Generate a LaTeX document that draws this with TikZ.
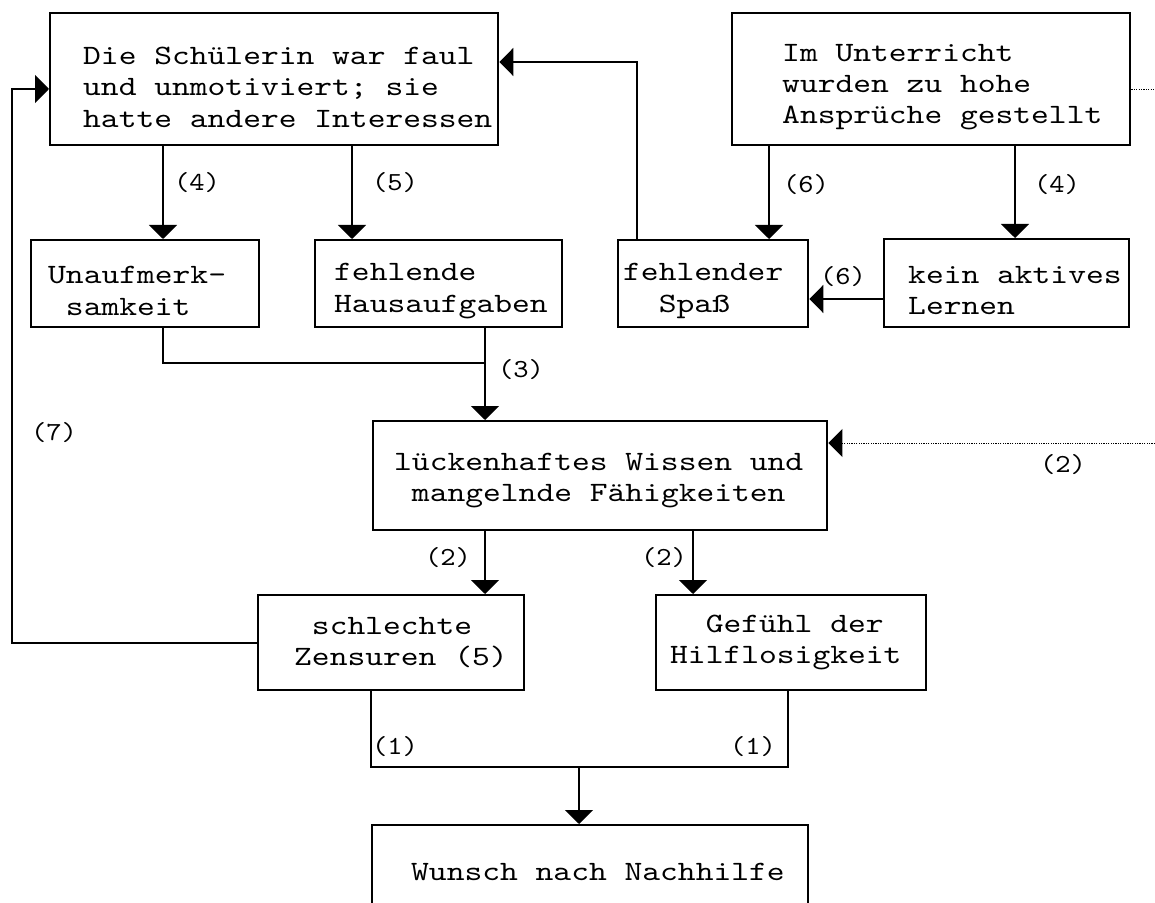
\documentclass[tikz,border=0pt]{standalone}
\usepackage{fontspec}
\usetikzlibrary{arrows.meta}
\newfontfamily\monofont[FakeStretch=1.21]{lmmono10-regular.otf}
\newfontfamily\numfont[FakeStretch=1.12]{lmmono10-regular.otf}
\newcommand\boxtext{\monofont\fontsize{14pt}{15.7pt}\selectfont}
\newcommand\numtext{\numfont\fontsize{13pt}{14pt}\selectfont}

\begin{document}
\begin{tikzpicture}[
    x=0.5pt, y=-0.5pt,
    box/.style={draw, line width=1.2pt, anchor=north west, align=left,
                font=\boxtext, inner xsep=0pt, inner ysep=0pt},
    indent/.style={execute at begin node={\leftskip=#1\relax
                   \spaceskip=\fontdimen2\font\relax \xspaceskip=\spaceskip}},
    link/.style={line width=0.9pt},
    arr/.style={link, -{Triangle[width=14pt, length=7pt]}},
    dots/.style={line width=0.5pt, dash pattern=on 0.6pt off 0.6pt},
    num/.style={font=\numtext, inner sep=0pt}
]

% Page: 1155 x 903 px, 1 px = 0.5 pt, y grows downwards
\useasboundingbox (0,0) rectangle (1155,903);
\fill[white] (0,0) rectangle (1155,903);
\clip (0,0) rectangle (1155,903);

% Boxes, placed by their upper left corner
\node[box, text width=224pt, minimum height=66pt, text height=16.5pt, indent=16.5pt] (faul) at (49,12)
    {Die Schülerin war faul\\und unmotiviert; sie\\hatte andere Interessen};
\node[box, text width=199pt, minimum height=66pt, text height=16.5pt, indent=25pt] (hoch) at (731,12)
    {Im Unterricht\\wurden zu hohe\\Ansprüche gestellt};
\node[box, text width=114pt, minimum height=43.5pt, text height=16pt, indent=8.5pt] (unauf) at (30,239)
    {Unaufmerk-\\~samkeit};
\node[box, text width=123.5pt, minimum height=43.5pt, text height=16pt, indent=9.5pt] (haus) at (314,239)
    {fehlende\\Hausaufgaben};
\node[box, text width=95pt, minimum height=43.5pt, text height=16pt, indent=2.5pt] (spass) at (617,239)
    {fehlender\\~~Spaß};
\node[box, text width=122.5pt, minimum height=44pt, text height=16pt, indent=12pt] (aktiv) at (883,238)
    {kein aktives\\Lernen};
\node[box, text width=227pt, minimum height=54.5pt, text height=13.5pt, indent=10.5pt] (wissen) at (372,420)
    {lückenhaftes Wissen und\\~mangelnde Fähigkeiten};
\node[box, text width=133pt, minimum height=47.5pt, indent=18pt] (noten) at (257,594)
    {~schlechte\\Zensuren (5)};
\node[box, text width=135pt, minimum height=47.5pt, indent=7pt] (hilf) at (655,594)
    {~~Gefühl der\\Hilflosigkeit};
\node[box, text width=218pt, minimum height=46.5pt, indent=19.5pt] (wunsch) at (371,824)
    {Wunsch nach Nachhilfe};

% Helper coordinates for the connector lines
\coordinate (xac) at (163,0);
\coordinate (xad) at (352,0);
\coordinate (xbe) at (769,0);
\coordinate (xbf) at (1015,0);
\coordinate (xdg) at (485,0);
\coordinate (xgi) at (693,0);
\coordinate (ea)  at (637,62);
\coordinate (loop) at (12,89);
\coordinate (yfe) at (0,299);
\coordinate (cd)  at (485,363);
\coordinate (hj)  at (371,767);
\coordinate (ij)  at (788,767);
\coordinate (jn)  at (579,767);
\coordinate (bd)  at (1155,90);
\coordinate (gd)  at (1155,443);

% Connectors
\draw[arr] (faul.south -| xac) -- (unauf.north -| xac);
\draw[arr] (faul.south -| xad) -- (haus.north -| xad);
\draw[arr] (hoch.south -| xbe) -- (spass.north -| xbe);
\draw[arr] (hoch.south -| xbf) -- (aktiv.north -| xbf);
\draw[arr] (aktiv.west |- yfe) -- (spass.east |- yfe);
\draw[arr] (spass.north -| ea) -- (ea) -- (faul.east |- ea);
\draw[link] (unauf.south -| xac) |- (cd);
\draw[arr] (haus.south -| xdg) -- (wissen.north -| xdg);
\draw[arr] (wissen.south -| xdg) -- (noten.north -| xdg);
\draw[arr] (wissen.south -| xgi) -- (hilf.north -| xgi);
\draw[arr] (noten.west) -| (loop) -- (faul.west |- loop);
\draw[link] (noten.south -| hj) -- (hj) -- (ij) -- (hilf.south -| ij);
\draw[arr] (jn) -- (wunsch.north -| jn);

% Dotted links leaving the picture
\draw[dots] (hoch.east |- bd) -- (bd);
\draw[dots, -{Triangle[width=14pt, length=7pt]}] (gd) -- (wissen.east |- gd);

% Numbers at the connectors
\node[num] (n4a) at (197,183) {(4)};
\node[num] (n5)  at (395,183) {(5)};
\node[num] (n6a) at (806,185) {(6)};
\node[num] (n4b) at (1057,185) {(4)};
\node[num] (n6b) at (843,277) {(6)};
\node[num] (n3)  at (521,370) {(3)};
\node[num] (n7)  at (54,433) {(7)};
\node[num] (n2a) at (448,558) {(2)};
\node[num] (n2b) at (664,558) {(2)};
\node[num] (n2c) at (1063,465) {(2)};
\node[num] (n1a) at (395,747) {(1)};
\node[num] (n1b) at (753,747) {(1)};

\end{tikzpicture}
\end{document}
